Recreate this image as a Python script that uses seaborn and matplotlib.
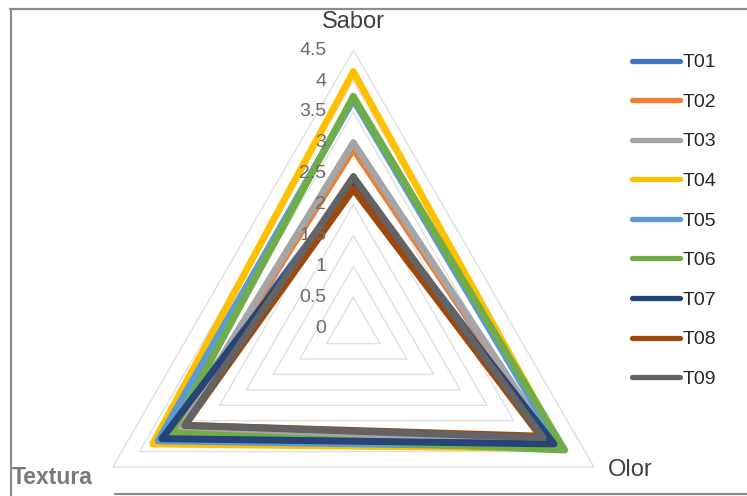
import numpy as np
import pandas as pd
import seaborn as sns
import matplotlib.pyplot as plt
from matplotlib.lines import Line2D

# ----------------------
# Data
# ----------------------
atributos = ["Sabor", "Olor", "Textura"]
tratamientos = ["T01", "T02", "T03", "T04", "T05", "T06", "T07", "T08", "T09"]

sabor = [2.35, 2.90, 3.00, 4.15, 3.70, 3.75, 2.30, 2.25, 2.45]
olor = [3.80, 3.70, 3.70, 3.90, 3.85, 3.95, 3.75, 3.50, 3.55]
textura = [3.62, 3.30, 3.30, 3.75, 3.65, 3.40, 3.58, 3.15, 3.15]

niveles = [0, 0.5, 1, 1.5, 2, 2.5, 3, 3.5, 4, 4.5]
niveles_txt = ["0", "0.5", "1", "1.5", "2", "2.5", "3", "3.5", "4", "4.5"]

colores = ["#4472C4", "#ED7D31", "#A5A5A5", "#FFC000", "#5B9BD5",
           "#70AD47", "#264478", "#9E480E", "#636363"]

# long table, each polygon closed by repeating the first attribute
angulos = np.linspace(0, 2 * np.pi, len(atributos) + 1)
rows = []
for i, t in enumerate(tratamientos):
    vals = [sabor[i], olor[i], textura[i], sabor[i]]
    for k in range(len(vals)):
        rows.append({"Tratamiento": t, "angulo": angulos[k], "valor": vals[k]})
df = pd.DataFrame(rows)

# ----------------------
# Plot
# ----------------------
sns.set_style("white")
plt.rcParams["font.family"] = ["Liberation Sans", "DejaVu Sans"]

fig = plt.figure(figsize=(7.47, 4.96), dpi=100)
ax = fig.add_axes([0.101, -0.222, 0.744, 1.121], projection="polar")
ax.set_theta_offset(np.pi / 2)
ax.set_theta_direction(-1)
ax.set_ylim(0, 4.5)
ax.grid(False)
ax.spines["polar"].set_visible(False)
ax.patch.set_visible(False)
ax.set_xticks([])
ax.set_yticks([])

# triangular grid rings
for n in niveles[1:]:
    ax.plot(angulos, [n] * len(angulos), color="#e0e0e0", lw=1, zorder=1)

sns.lineplot(data=df, x="angulo", y="valor", hue="Tratamiento", palette=colores,
             sort=False, estimator=None, lw=5, ax=ax, legend=True, zorder=3)
for ln in ax.lines:
    ln.set_solid_joinstyle("round")

ax.set_xlabel("")
ax.set_ylabel("")

# radial tick labels along the Sabor axis (drawn over the lines, like Excel)
for n, s in zip(niveles, niveles_txt):
    ax.annotate(s, xy=(0, n), xytext=(-27, 0), textcoords="offset pixels",
                ha="right", va="center", fontsize=14, color="#6b6b6b", zorder=6)

# attribute labels
ax.annotate("Sabor", xy=(0, 4.5), xytext=(0, 28), textcoords="offset pixels",
            ha="center", va="center", fontsize=17, color="#404040")
ax.annotate("Olor", xy=(angulos[1], 4.5), xytext=(14, -3), textcoords="offset pixels",
            ha="left", va="center", fontsize=17, color="#404040")
fig.text(12 / 747, 1 - 478 / 496, "Textura", ha="left", va="center",
         fontsize=16.5, fontweight="bold", color="#7a7a7a")

# legend
handles, labels = ax.get_legend_handles_labels()
ax.get_legend().remove()
for h in handles:
    h.set_linewidth(3.8)
fig.legend(handles, labels, loc="upper left", bbox_to_anchor=(622 / 747, 1 - 44 / 496),
           frameon=False, fontsize=14, handlelength=2.5, handletextpad=0.1,
           labelspacing=1.13, borderpad=0, labelcolor="#262626")

# outer frame
frame = "#8c8c8c"
fig.add_artist(Line2D([10 / 747, 1], [1 - 9 / 496] * 2, color=frame, lw=1.6))
fig.add_artist(Line2D([11 / 747] * 2, [0, 1 - 9 / 496], color=frame, lw=1.6))
fig.add_artist(Line2D([115 / 747, 1], [2 / 496] * 2, color=frame, lw=1.6))

fig.savefig("out.png", dpi=100)
